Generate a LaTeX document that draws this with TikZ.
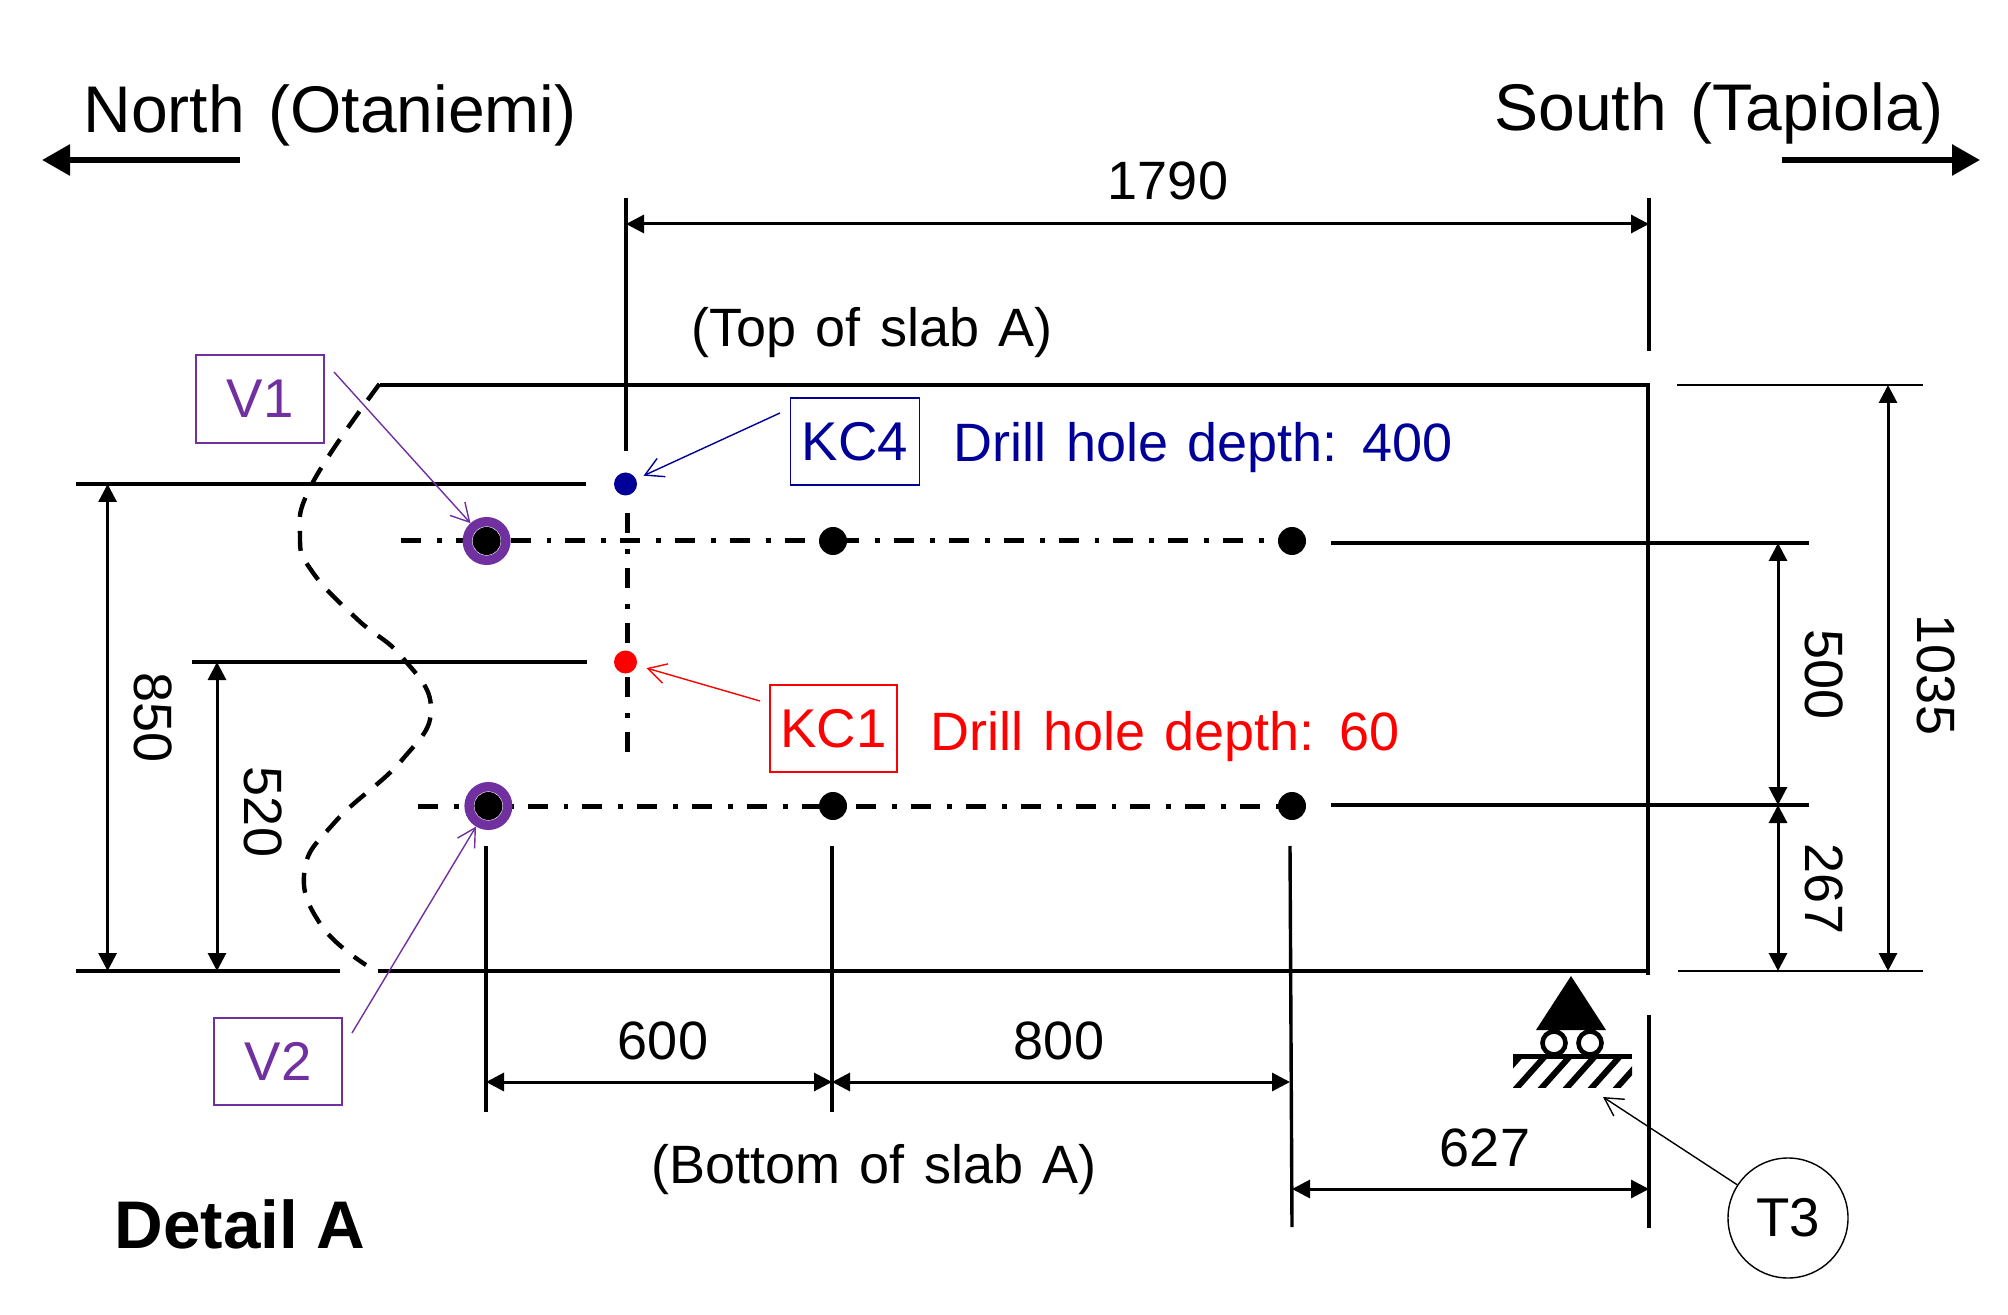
\documentclass[tikz,border=0pt]{standalone}
\usepackage{fontspec}
\setmainfont{Liberation Sans}
\newfontfamily\widefam[WordSpace=1.22]{Liberation Sans}
\newfontfamily\titlefam[WordSpace=1.3]{Liberation Sans}
\usetikzlibrary{arrows.meta,patterns}
\definecolor{vio}{HTML}{7030A0}
\definecolor{dblue}{HTML}{000099}
\tikzset{
  dimtxt/.style={font=\fontsize{27}{30}\selectfont,inner sep=0pt},
  widetxt/.style={font=\widefam\fontsize{27}{30}\selectfont,inner sep=0pt},
  bigtxt/.style={font=\titlefam\fontsize{33}{38}\selectfont,inner sep=0pt},
  solidline/.style={line width=1.7pt},
  extline/.style={line width=1.1pt},
  dimarrow/.style={line width=1.5pt,{Triangle[length=9pt,width=9pt]}-{Triangle[length=9pt,width=9pt]}},
  bigarrow/.style={line width=3pt,-{Triangle[length=14pt,width=15pt]}},
  callout/.style={line width=0.7pt,-{Straight Barb[length=9pt,width=10pt]}},
  chain/.style={line width=2.5pt,dash pattern=on 10pt off 8pt on 2.4pt off 7pt},
  wave/.style={line width=2.2pt,dash pattern=on 10pt off 7pt},
  tagbox/.style={draw=#1,text=#1,line width=0.7pt,font=\fontsize{27.3}{30}\selectfont,inner sep=0pt},
  dot/.style={circle,fill=#1,inner sep=0pt,minimum size=11.5pt},
  bdot/.style={circle,fill=black,inner sep=0pt,minimum size=14pt},
  ring/.style={circle,draw=vio,fill=white,line width=4.7pt,inner sep=0pt,minimum size=19.3pt},
}
\begin{document}
\begin{tikzpicture}[x=0.5pt,y=-0.5pt]
\useasboundingbox (0,0) rectangle (2008,1315);
% titles
\node[bigtxt] (north) at (330,115.5) {North (Otaniemi)};
\node[bigtxt] (south) at (1719,113.5) {South (Tapiola)};
\node[font=\bfseries\fontsize{33.7}{38}\selectfont,inner sep=0pt] (detail) at (240,1224) {Detail A};
\coordinate (nA) at (240,160); \coordinate (nB) at (42,160);
\coordinate (sA) at (1782,160); \coordinate (sB) at (1980,160);
\draw[bigarrow] (nA) -- (nB);
\draw[bigarrow] (sA) -- (sB);
% slab outline
\coordinate (tl) at (380,385); \coordinate (tr) at (1648,385); \coordinate (br) at (1648,975);
\coordinate (bl) at (378,971); \coordinate (brb) at (1648,971);
\draw[solidline] (tl) -- (tr) -- (br);
\draw[solidline] (bl) -- (brb);
\coordinate (bl0) at (76,971); \coordinate (bl1) at (340,971);
\draw[solidline] (bl0) -- (bl1);
\draw[wave] plot[smooth,tension=0.75] coordinates {(379.5,384) (312.5,483) (300,536.6) (312.5,572) (357,619) (402,657) (431,708.5) (402,760) (335,822) (304.5,871) (321,925) (366,965)};
% extension lines left
\coordinate (e1a) at (76,484); \coordinate (e1b) at (586,484);
\coordinate (e2a) at (192,662); \coordinate (e2b) at (587,662);
\draw[solidline] (e1a) -- (e1b);
\draw[solidline] (e2a) -- (e2b);
\coordinate (d850a) at (107.6,484); \coordinate (d850b) at (107.6,971);
\coordinate (d520a) at (217,662); \coordinate (d520b) at (217,971);
\draw[dimarrow] (d850a) -- (d850b);
\draw[dimarrow] (d520a) -- (d520b);
\node[dimtxt,rotate=-90] (t850) at (153,718) {850};
\node[dimtxt,rotate=-90] (t520) at (263,812) {520};
% chains
\coordinate (c1a) at (401,541); \coordinate (c1b) at (1291,541);
\coordinate (c2a) at (418,806); \coordinate (c2b) at (1291,806);
\coordinate (c3a) at (627,513); \coordinate (c3b) at (627,754);
\draw[chain] (c1a) -- (c1b);
\draw[chain] (c2a) -- (c2b);
\draw[chain] (c3a) -- (c3b);
% points
\node[ring] (v1p) at (486.6,541) {};
\node[ring] (v2p) at (488.4,806) {};
\node[bdot] (v1c) at (486.6,541) {};
\node[bdot] (v2c) at (488.4,806) {};
\node[bdot] (p12) at (833,541) {};
\node[bdot] (p13) at (1292,541) {};
\node[bdot] (p22) at (833,806) {};
\node[bdot] (p23) at (1292,806) {};
\node[dot=dblue] (kc4p) at (625.5,484) {};
\node[dot=red] (kc1p) at (625.5,662) {};
% top dim
\coordinate (tk1a) at (626,198); \coordinate (tk1b) at (626,451);
\coordinate (tk2a) at (1649,198); \coordinate (tk2b) at (1649,351);
\draw[solidline] (tk1a) -- (tk1b);
\draw[solidline] (tk2a) -- (tk2b);
\coordinate (d1790a) at (626,224); \coordinate (d1790b) at (1649,224);
\draw[dimarrow] (d1790a) -- (d1790b);
\node[dimtxt] (t1790) at (1168,181) {1790};
\node[widetxt] (ttop) at (872,333) {(Top of slab A)};
\node[widetxt] (tbot) at (874,1170) {(Bottom of slab A)};
% right ext
\coordinate (r1a) at (1331,543); \coordinate (r1b) at (1809,543);
\coordinate (r2a) at (1331,805); \coordinate (r2b) at (1809,805);
\coordinate (r3a) at (1677,385); \coordinate (r3b) at (1923,385);
\coordinate (r4a) at (1678,971); \coordinate (r4b) at (1923,971);
\draw[solidline] (r1a) -- (r1b);
\draw[solidline] (r2a) -- (r2b);
\draw[extline] (r3a) -- (r3b);
\draw[extline] (r4a) -- (r4b);
\coordinate (d1035a) at (1888,385); \coordinate (d1035b) at (1888,971);
\coordinate (d500a) at (1778,543); \coordinate (d500b) at (1778,805);
\coordinate (d267b) at (1778,971);
\draw[dimarrow] (d1035a) -- (d1035b);
\draw[dimarrow] (d500a) -- (d500b);
\draw[dimarrow] (d500b) -- (d267b);
\node[dimtxt,rotate=-90] (t500) at (1824,675) {500};
\node[dimtxt,rotate=-90] (t1035) at (1936,675) {1035};
\node[dimtxt,rotate=-90] (t267) at (1824,889) {267};
% bottom verticals
\coordinate (b1a) at (486,846); \coordinate (b1b) at (486,1112);
\coordinate (b2a) at (832,846); \coordinate (b2b) at (832,1112);
\coordinate (b3a) at (1290,846); \coordinate (b3b) at (1292,1227);
\coordinate (b4a) at (1649,1015); \coordinate (b4b) at (1649,1228);
\draw[solidline] (b1a) -- (b1b);
\draw[solidline] (b2a) -- (b2b);
\draw[solidline] (b3a) -- (b3b);
\draw[solidline] (b4a) -- (b4b);
\coordinate (d600a) at (486,1082); \coordinate (d600b) at (832,1082); \coordinate (d800b) at (1290,1082);
\coordinate (d627a) at (1292,1189); \coordinate (d627b) at (1649,1189);
\draw[dimarrow] (d600a) -- (d600b);
\draw[dimarrow] (d600b) -- (d800b);
\draw[dimarrow] (d627a) -- (d627b);
\node[dimtxt] (t600) at (663,1041) {600};
\node[dimtxt] (t800) at (1059,1041) {800};
\node[dimtxt] (t627) at (1485,1148) {627};
% support
\fill (1571,976) -- (1606,1030) -- (1536,1030) -- cycle;
\draw[line width=2.3pt] (1554,1043) circle (11.5);
\draw[line width=2.3pt] (1590,1043) circle (11.5);
\begin{scope}
\clip (1513,1059) rectangle (1632,1087);
\foreach \i in {-1,...,5} {
  \draw[line width=3pt] (1513+\i*25,1092) -- (1513+\i*25+34,1054);
}
\end{scope}
\draw[line width=2.5pt] (1513,1056) -- (1632,1056);
% callouts
\node[tagbox=vio,minimum width=64pt,minimum height=44pt] (v1) at (260,399) {V1};
\node[tagbox=vio,minimum width=64pt,minimum height=43.5pt] (v2) at (278,1061.5) {V2};
\node[tagbox=dblue,minimum width=64.5pt,minimum height=43.5pt] (kc4) at (855,441.5) {KC4};
\node[tagbox=red,minimum width=63.5pt,minimum height=43.5pt] (kc1) at (833.5,728.5) {KC1};
\node[widetxt,text=dblue] (d4) at (1203,447.5) {Drill hole depth: 400};
\node[widetxt,text=red] (d1) at (1165,736.5) {Drill hole depth: 60};
\node[circle,draw,line width=0.7pt,minimum size=60pt,inner sep=0pt,font=\fontsize{27.3}{30}\selectfont] (t3) at (1788,1218) {T3};
\coordinate (v1s) at (334,372); \coordinate (v2s) at (352,1033);
\coordinate (k4s) at (780,413); \coordinate (k1s) at (760,701);
\coordinate (t3e) at (1603,1097);
\draw[callout,draw=vio] (v1s) -- (v1p);
\draw[callout,draw=vio] (v2s) -- (v2p);
\draw[callout,draw=dblue,shorten >=4pt] (k4s) -- (kc4p);
\draw[callout,draw=red,shorten >=5pt] (k1s) -- (kc1p);
\draw[callout] (t3) -- (t3e);
\end{tikzpicture}
\end{document}
